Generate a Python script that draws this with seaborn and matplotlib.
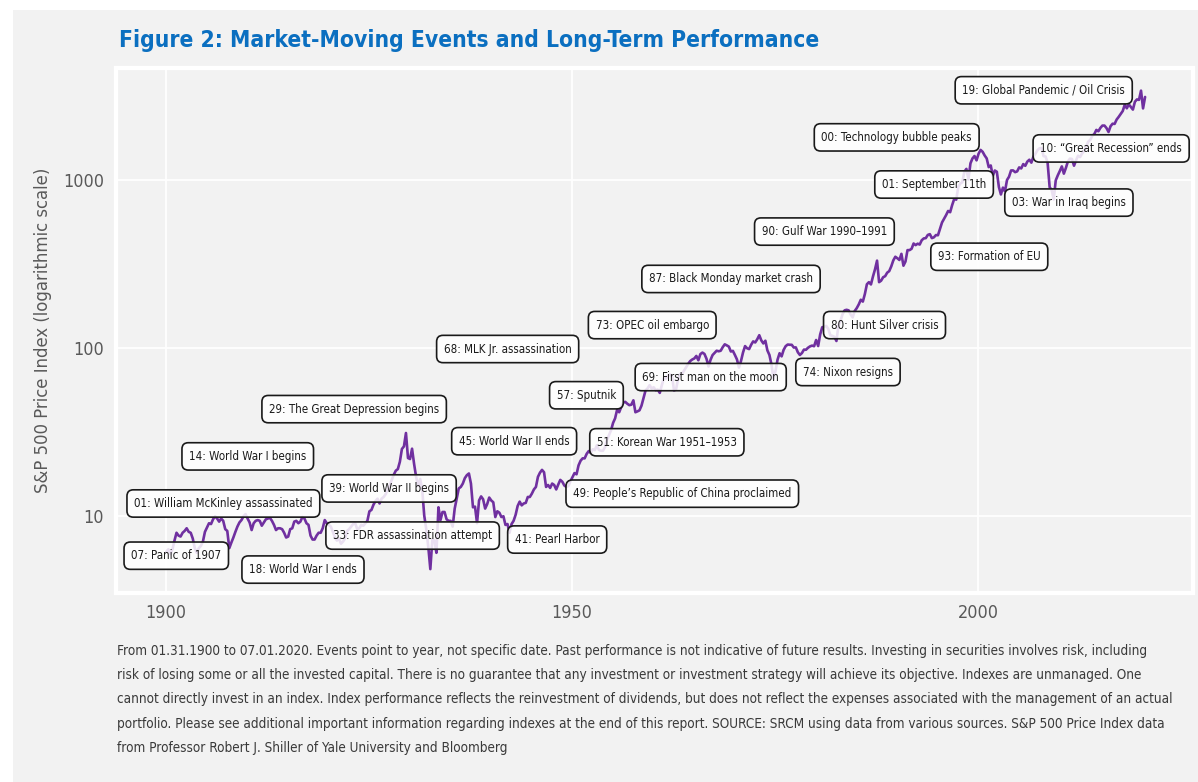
import matplotlib
matplotlib.use("Agg")
import matplotlib.pyplot as plt
from matplotlib import font_manager
from matplotlib.patches import Rectangle
from matplotlib.ticker import FixedLocator, NullLocator, FixedFormatter
import numpy as np
import pandas as pd
import seaborn as sns

# ---------------- data (quarterly: Jan, Apr, Jul, Oct) ----------------
prices_1900s = [6.1, 6.3, 5.9, 6.3, 7.1, 7.9, 7.6, 7.5, 7.9, 8.1, 8.4, 8.0,
                7.9, 7.3, 6.4, 6.0, 6.4, 6.6, 7.0, 8.0, 8.5, 9.0, 8.9, 9.5,
                9.9, 9.6, 9.2, 9.6, 9.3, 8.3, 8.1, 6.4, 6.9, 7.4, 8.0, 8.6,
                9.1, 9.4, 9.9, 10.2]
prices_1910s = [9.6, 9.1, 8.2, 9.0, 9.3, 9.4, 9.3, 8.7, 9.1, 9.5, 9.6, 9.7,
                9.3, 8.8, 8.2, 8.4, 8.4, 8.3, 7.9, 7.4, 7.5, 8.3, 8.4, 9.2,
                9.3, 9.0, 9.2, 9.8, 9.6, 9.0, 8.8, 7.6, 7.2, 7.2, 7.6, 7.9,
                7.9, 8.4, 9.4, 9.0]
prices_1920s = [8.8, 8.6, 8.0, 7.4, 7.1, 7.3, 6.8, 7.0, 7.3, 8.1, 8.3, 8.6,
                8.9, 9.0, 8.3, 8.4, 8.8, 8.7, 9.0, 9.3, 10.6, 10.8, 11.6, 12.2,
                12.6, 11.8, 12.6, 12.9, 13.4, 14.3, 15.1, 16.3, 17.5, 18.5, 18.9, 20.9,
                24.9, 25.8, 31.0, 22.0]
prices_1930s = [21.7, 25.0, 20.3, 17.0, 15.0, 16.5, 14.3, 10.0, 8.3, 6.5, 4.8, 7.2,
                7.1, 6.0, 11.2, 9.4, 10.5, 10.5, 9.5, 9.3, 9.3, 8.6, 11.0, 12.6,
                14.5, 14.8, 15.5, 16.7, 17.4, 17.8, 15.5, 11.2, 11.3, 9.0, 12.3, 13.0,
                12.5, 11.0, 11.7, 12.8]
prices_1940s = [12.3, 12.0, 9.8, 10.6, 10.4, 9.8, 9.9, 8.8, 8.9, 7.9, 8.9, 9.3,
                10.1, 11.4, 12.1, 11.5, 11.8, 11.9, 12.9, 12.9, 13.5, 14.3, 14.8, 17.0,
                18.0, 18.7, 18.1, 14.8, 15.2, 14.6, 15.5, 15.2, 14.3, 15.3, 16.3, 15.9,
                15.1, 14.8, 15.0, 16.0]
prices_1950s = [16.9, 17.9, 17.6, 19.9, 21.2, 21.9, 21.9, 23.3, 24.2, 23.6, 24.8, 24.5,
                26.2, 24.6, 24.3, 24.3, 25.5, 28.3, 30.1, 32.2, 35.6, 37.9, 42.7, 41.2,
                44.2, 47.0, 47.5, 46.3, 45.4, 45.7, 48.5, 41.2, 41.7, 42.3, 45.1, 50.0,
                55.6, 57.1, 59.7, 57.0]
prices_1960s = [58.0, 55.7, 56.2, 53.7, 59.7, 65.8, 65.4, 68.0, 69.1, 68.0, 55.6, 56.2,
                65.1, 69.6, 70.0, 73.0, 76.5, 80.0, 83.1, 84.9, 86.1, 89.1, 84.0, 91.4,
                93.3, 91.6, 85.8, 77.1, 84.5, 90.2, 93.0, 95.7, 95.0, 95.7, 100.5, 104.5,
                103.0, 101.3, 94.7, 95.5]
prices_1970s = [90.3, 85.0, 76.0, 83.2, 93.5, 102.0, 99.0, 97.9, 103.9, 108.8, 107.2, 112.0,
                118.4, 110.3, 105.8, 109.8, 96.1, 90.3, 79.3, 65.0, 72.6, 84.7, 92.5, 88.6,
                96.9, 101.9, 104.2, 103.9, 103.8, 100.0, 100.2, 93.7, 90.3, 92.7, 97.2, 97.0,
                99.7, 101.6, 102.7, 101.8]
prices_1980s = [110.9, 102.1, 119.8, 132.0, 133.0, 134.4, 129.1, 118.3, 117.3, 115.8, 109.4, 135.3,
                144.3, 157.7, 166.4, 167.7, 166.4, 157.3, 151.1, 165.0, 171.6, 180.6, 192.5, 187.7,
                208.2, 238.0, 245.0, 237.4, 265.0, 292.0, 329.0, 245.0, 250.0, 262.0, 266.0, 279.0,
                285.0, 304.0, 330.0, 347.0]
prices_1990s = [340.0, 332.0, 361.0, 307.0, 325.0, 380.0, 380.0, 387.0, 416.0, 407.0, 415.0, 410.0,
                435.0, 446.0, 448.0, 468.0, 473.0, 448.0, 453.0, 467.0, 466.0, 508.0, 555.0, 584.0,
                614.0, 650.0, 639.0, 705.0, 766.0, 759.0, 903.0, 947.0, 963.0, 1112.0, 1157.0, 1000.0,
                1248.0, 1335.0, 1380.0, 1300.0]
prices_2000s = [1425, 1500, 1462, 1390, 1335, 1185, 1212, 1050, 1131, 1112, 903, 815,
                895, 850, 993, 1039, 1132, 1133, 1106, 1118, 1181, 1164, 1235, 1207,
                1278, 1311, 1260, 1367, 1424, 1494, 1534, 1540, 1378, 1370, 1257, 900,
                866, 760, 988, 1058]
prices_2010s = [1123, 1197, 1084, 1172, 1282, 1331, 1325, 1208, 1300, 1386, 1360, 1431,
                1480, 1570, 1680, 1720, 1822, 1864, 1973, 1937, 2029, 2094, 2094, 2024,
                1918, 2076, 2148, 2143, 2275, 2359, 2454, 2557, 2790, 2654, 2801, 2700,
                2607, 2904, 2997, 2978]
prices_2020 = [3380, 2650, 3100]

event_labels = [
    "19: Global Pandemic / Oil Crisis", "00: Technology bubble peaks",
    "10: \u201cGreat Recession\u201d ends", "01: September 11th",
    "03: War in Iraq begins", "90: Gulf War 1990\u20131991",
    "93: Formation of EU", "87: Black Monday market crash",
    "73: OPEC oil embargo", "80: Hunt Silver crisis",
    "68: MLK Jr. assassination", "69: First man on the moon",
    "74: Nixon resigns", "57: Sputnik",
    "29: The Great Depression begins", "45: World War II ends",
    "51: Korean War 1951\u20131953", "14: World War I begins",
    "49: People\u2019s Republic of China proclaimed", "39: World War II begins",
    "01: William McKinley assassinated", "33: FDR assassination attempt",
    "41: Pearl Harbor", "07: Panic of 1907", "18: World War I ends",
]
event_x = [2008.1, 1990.0, 2016.4, 1994.6, 2011.2, 1981.1, 2001.4, 1969.6,
           1959.9, 1988.5, 1942.1, 1967.1, 1984.0, 1951.8, 1923.2, 1942.9,
           1961.7, 1910.1, 1963.6, 1927.5, 1907.1, 1930.4, 1948.2, 1901.3, 1916.9]
event_y = [3398, 1782, 1531, 934, 729, 490, 347, 256,
           136, 136, 98, 66.7, 71.5, 52, 43, 27.7,
           27.3, 22.5, 13.5, 14.5, 11.8, 7.6, 7.2, 5.77, 4.77]

x_ticks = [1900, 1950, 2000]
y_ticks = [10, 100, 1000]
y_tick_labels = ["10", "100", "1000"]

title = "Figure 2: Market-Moving Events and Long-Term Performance"
ylabel = "S&P 500 Price Index (logarithmic scale)"
footnote_lines = [
    "From 01.31.1900 to 07.01.2020. Events point to year, not specific date. Past performance is not indicative of future results. Investing in securities involves risk, including",
    "risk of losing some or all the invested capital. There is no guarantee that any investment or investment strategy will achieve its objective. Indexes are unmanaged. One",
    "cannot directly invest in an index. Index performance reflects the reinvestment of dividends, but does not reflect the expenses associated with the management of an actual",
    "portfolio. Please see additional important information regarding indexes at the end of this report. SOURCE: SRCM using data from various sources. S&P 500 Price Index data",
    "from Professor Robert J. Shiller of Yale University and Bloomberg",
]

prices = np.array(prices_1900s + prices_1910s + prices_1920s + prices_1930s +
                  prices_1940s + prices_1950s + prices_1960s + prices_1970s +
                  prices_1980s + prices_1990s + prices_2000s + prices_2010s +
                  prices_2020, dtype=float)
years = 1900.08 + 0.25 * np.arange(len(prices))
df = pd.DataFrame({"year": years, "price": prices})

# ---------------- style ----------------
sns.set_theme(style="darkgrid")
names = {f.name for f in font_manager.fontManager.ttflist}
if "Liberation Sans Narrow" in names:
    FAMILY, STRETCH = "Liberation Sans Narrow", "normal"
else:
    FAMILY, STRETCH = "DejaVu Sans", "condensed"
plt.rcParams["font.family"] = [FAMILY, "DejaVu Sans"]
plt.rcParams["font.stretch"] = STRETCH

BG = "#f2f2f2"
PURPLE = "#7030a0"
BLUE = "#0b6fc0"
GREY = "#595959"

W, H = 1198, 782
fig = plt.figure(figsize=(W / 100, H / 100), dpi=100, facecolor="white")
renderer = fig.canvas.get_renderer()


def fit(text, target_px, weight="normal", rotation=0):
    t = fig.text(0, 0, text, fontsize=10, weight=weight, rotation=rotation,
                 family=[FAMILY, "DejaVu Sans"], stretch=STRETCH)
    bb = t.get_window_extent(renderer)
    t.remove()
    size = bb.height if rotation else bb.width
    return 10 * target_px / size


fig.patches.append(Rectangle((13 / W, 0), 1 - 13 / W, 1 - 10 / H,
                             transform=fig.transFigure, facecolor=BG,
                             edgecolor="none", zorder=-10))

ax = fig.add_axes([116 / W, 1 - 593 / H, (1193 - 116) / W, (593 - 68) / H])
ax.set_facecolor(BG)

sns.lineplot(data=df, x="year", y="price", ax=ax, color=PURPLE,
             linewidth=1.9, zorder=3)
ax.set_yscale("log")
ax.set_xlim(1893.88, 2026.48)
ax.set_ylim(3.46, 4610)

ax.xaxis.set_major_locator(FixedLocator(x_ticks))
ax.yaxis.set_major_locator(FixedLocator(y_ticks))
ax.yaxis.set_major_formatter(FixedFormatter(y_tick_labels))
ax.yaxis.set_minor_locator(NullLocator())
ax.xaxis.set_minor_locator(NullLocator())

tick_fs = fit("1000", 41)
ax.tick_params(axis="both", length=0, labelsize=tick_fs, labelcolor=GREY)
ax.tick_params(axis="y", pad=8.5)
ax.tick_params(axis="x", pad=8)
ax.grid(True, color="white", linewidth=1.3)
for s in ax.spines.values():
    s.set_visible(True)
    s.set_color("white")
    s.set_linewidth(3)

ax.set_xlabel("")
ax.set_ylabel(ylabel, fontsize=fit(ylabel, 327, rotation=90), color=GREY)
ax.yaxis.set_label_coords((52 - 116) / (1193 - 116), 0.5)

box_fs = fit(event_labels[0], 148) * 1.1
for lab, ex, ey in zip(event_labels, event_x, event_y):
    ax.text(ex, ey, lab, ha="center", va="center", fontsize=box_fs,
            color="#1a1a1a", zorder=5,
            bbox=dict(boxstyle="round,pad=0.62,rounding_size=0.55",
                      facecolor=(1, 1, 1, 0.85), edgecolor="#1a1a1a",
                      linewidth=1.2))

fig.text(119 / W, 1 - 41 / H, title, color=BLUE, weight="bold",
         fontsize=fit(title, 698, weight="bold"), ha="left", va="center")

foot_fs = fit(footnote_lines[0], 1035)
for i, line in enumerate(footnote_lines):
    fig.text(117 / W, 1 - (651 + 24.2 * i) / H, line, color="#3a3a3a",
             fontsize=foot_fs, ha="left", va="center")

fig.savefig("out.png", dpi=100, facecolor="white")
